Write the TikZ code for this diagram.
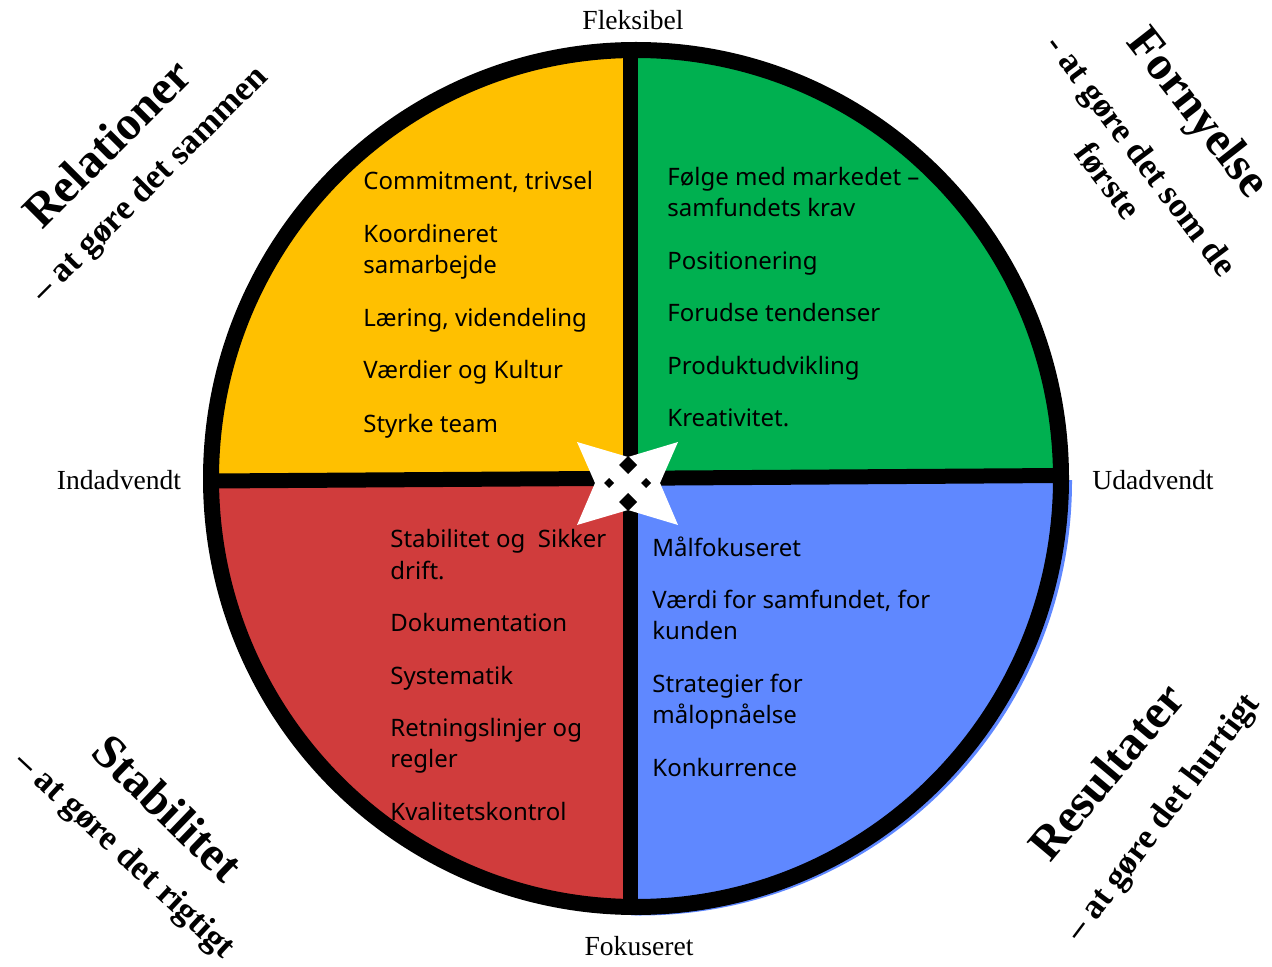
\documentclass[tikz,border=0pt]{standalone}
\usepackage{fontspec}
\setmainfont{Liberation Serif}
\newfontfamily\quadfont{Noto Sans}
\usetikzlibrary{positioning}
\definecolor{QYellow}{HTML}{FFC000}
\definecolor{QGreen}{HTML}{00B050}
\definecolor{QRed}{HTML}{D03C3C}
\definecolor{QBlue}{HTML}{5F88FF}

\begin{document}
\begin{tikzpicture}[x=0.5pt,y=-0.5pt]
	\tikzstyle{Axis}	= [font=\fontsize{13.8}{16}\selectfont, inner sep=0pt]
	\tikzstyle{Item}	= [anchor=base west, inner sep=0pt, font=\quadfont\fontsize{12}{15}\selectfont]
	\tikzstyle{Title}	= [font=\bfseries\fontsize{24}{27}\selectfont, inner sep=0pt]
	\tikzstyle{Sub}		= [font=\bfseries\fontsize{17.5}{21}\selectfont, inner sep=0pt, align=center]
	\tikzstyle{Ring}	= [line width=8pt]
	\tikzstyle{Bar}		= [line width=7.5pt]

	\useasboundingbox (0,0) rectangle (1272,967);

	% quadrants
	\coordinate (c) at (630.5,480);
	\begin{scope}
		\clip (636,478.5) ellipse [x radius=430, y radius=433];
		\fill[QYellow] (c) rectangle (190,30);
		\fill[QGreen] (c) rectangle (1080,30);
		\fill[QRed] (c) rectangle (190,930);
	\end{scope}
	\begin{scope}
		\clip (640,481) ellipse [x radius=432, y radius=434.5];
		\fill[QBlue] (c) rectangle (1080,930);
	\end{scope}

	\draw[Ring] (636,478.5) ellipse [x radius=425, y radius=428.5];
	\draw[Bar] (630.5,50) -- (630.5,907);
	\draw[Bar] (211,481) -- (1061,475.5);

	% star in the middle
	\fill[white] (577,442) -- (628,457) -- (678,442) -- (660,483) -- (678,525) -- (628,510) -- (577,525) -- (595,483) -- cycle;
	\foreach \cx/\cy/\s in {628/465/9, 628/502/9, 609/483/5, 646/483/5}
		\fill (\cx,\cy-\s) -- (\cx+\s,\cy) -- (\cx,\cy+\s) -- (\cx-\s,\cy) -- cycle;

	% axes
	\node (top) at (633,20) [Axis] {Fleksibel};
	\node (bottom) at (639,946) [Axis] {Fokuseret};
	\node (left) at (119,480) [Axis] {Indadvendt};
	\node (right) at (1153,480) [Axis] {Udadvendt};

	% yellow
	\node (y1) at (363,190) [Item] {Commitment, trivsel};
	\node (y2) at (363,243) [Item] {Koordineret};
	\node (y3) at (363,274) [Item] {samarbejde};
	\node (y4) at (363,327) [Item] {Læring, videndeling};
	\node (y5) at (363,379) [Item] {Værdier og Kultur};
	\node (y6) at (363,432) [Item] {Styrke team};

	% green
	\node (g1) at (667,186) [Item] {Følge med markedet –};
	\node (g2) at (667,217) [Item] {samfundets krav};
	\node (g3) at (667,270) [Item] {Positionering};
	\node (g4) at (667,322) [Item] {Forudse tendenser};
	\node (g5) at (667,375) [Item] {Produktudvikling};
	\node (g6) at (667,427) [Item] {Kreativitet.};

	% red
	\node (r1) at (390,547) [Item] {Stabilitet og\ \ Sikker};
	\node (r2) at (390,579) [Item] {drift.};
	\node (r3) at (390,631) [Item] {Dokumentation};
	\node (r4) at (390,684) [Item] {Systematik};
	\node (r5) at (390,736) [Item] {Retningslinjer og};
	\node (r6) at (390,767) [Item] {regler};
	\node (r7) at (390,820) [Item] {Kvalitetskontrol};

	% blue
	\node (b1) at (652,556) [Item] {Målfokuseret};
	\node (b2) at (652,608) [Item] {Værdi for samfundet, for};
	\node (b3) at (652,639) [Item] {kunden};
	\node (b4) at (652,692) [Item] {Strategier for};
	\node (b5) at (652,723) [Item] {målopnåelse};
	\node (b6) at (652,776) [Item] {Konkurrence};

	% corners
	\node (relT) at (107,143) [Title, rotate=45] {Relationer};
	\node (relS) at (151,185) [Sub, rotate=45] {– at gøre det sammen};
	\node (forT) at (1196,114) [Title, rotate=-52] {Fornyelse};
	\node (forS) at (1125,168) [Sub, rotate=-53] {- at gøre det som de\\første};
	\node (staT) at (168,808) [Title, rotate=-44] {Stabilitet};
	\node (staS) at (124,856) [Sub, rotate=-43] {– at gøre det rigtigt};
	\node (resT) at (1106,771) [Title, rotate=50] {Resultater};
	\node (resS) at (1164,818) [Sub, rotate=53] {– at gøre det hurtigt};
\end{tikzpicture}
\end{document}
